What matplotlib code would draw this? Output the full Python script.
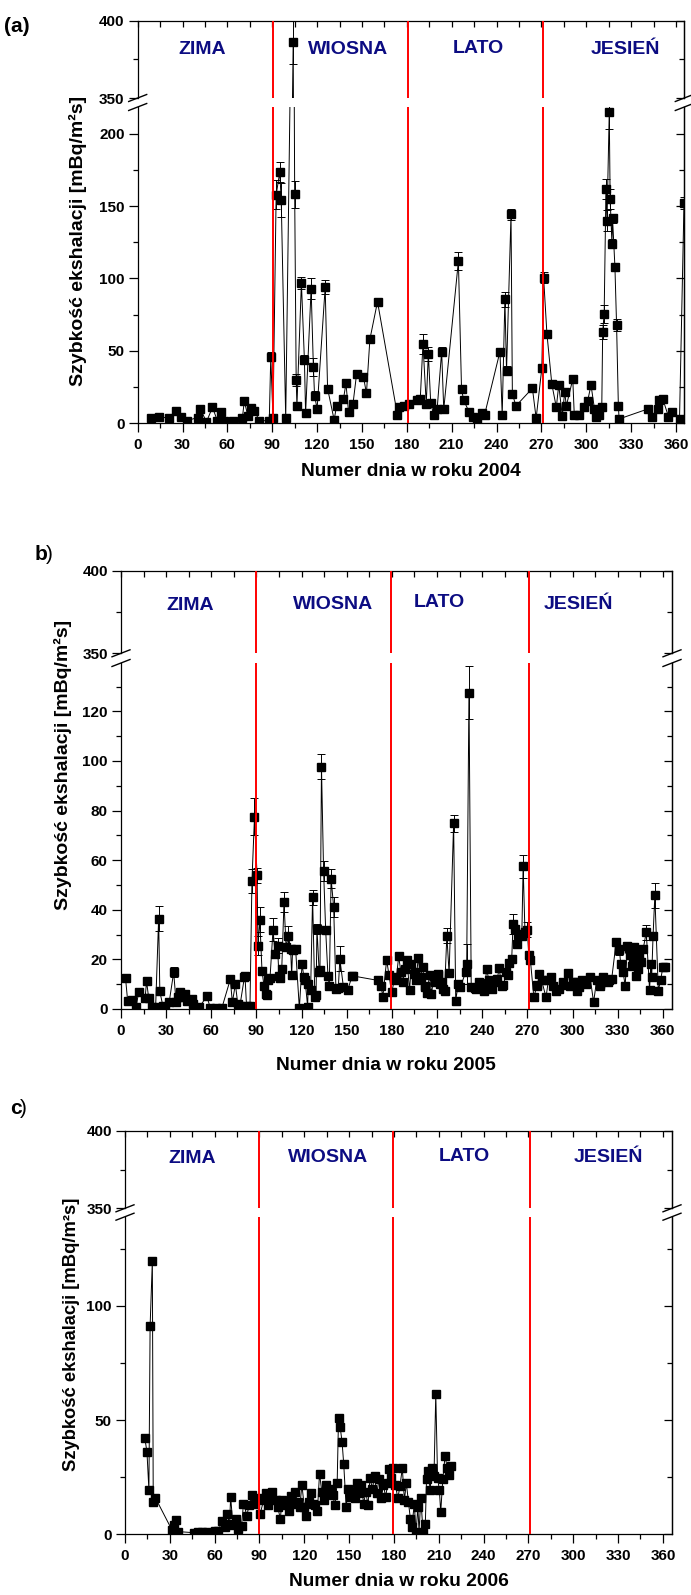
import matplotlib
matplotlib.use('Agg')
import matplotlib.pyplot as plt
from matplotlib.ticker import MultipleLocator, NullFormatter
from matplotlib.lines import Line2D

plt.rcParams['font.family'] = ['Liberation Sans', 'DejaVu Sans']
plt.rcParams['font.weight'] = 'bold'

# ---------------- data ----------------
seasons = ['ZIMA', 'WIOSNA', 'LATO', 'JESIEŃ']
x_label_a = 'Numer dnia w roku 2004'
x_label_b = 'Numer dnia w roku 2005'
x_label_c = 'Numer dnia w roku 2006'
y_label = 'Szybkość ekshalacji [mBq/m²s]'

border_a = [90.5, 181, 271.3]
border_b = [90, 179.5, 271]
border_c = [89.5, 179.7, 271]

a_day = [9, 14.5, 20.7, 25.7, 28.7, 33, 40, 42, 46, 50,
         53.3, 56, 57.7, 63.6, 70, 71.3, 73.7, 76, 78, 81.4,
         88, 89, 90.5, 92.6, 95, 96, 99, 104, 105, 106,
         106.5, 109.5, 111.5, 112.3, 116, 117.5, 118.3, 120, 125.4, 127,
         131.4, 133, 137.6, 139.3, 141, 144, 146.4, 151, 153, 155.3,
         160.4, 173.7, 175, 178, 181.7, 187, 189, 190.8, 193, 194.4,
         196, 198, 200.3, 203.3, 204.7, 214.5, 216.6, 218, 221.6, 224,
         227, 230, 232, 242.3, 243.8, 245.6, 246.7, 249.7, 250.6, 253,
         264, 266.5, 270.3, 271.5, 273.7, 277, 280, 281.6, 284, 285.6,
         286.7, 291, 292, 295.5, 298.8, 301, 303.2, 305.5, 306.6, 308.8,
         310.4, 311, 312, 313.2, 313.9, 315.4, 316, 317.2, 317.6, 319.2,
         320.3, 321.5, 322, 341.5, 343.7, 348, 349, 351.3, 355, 357.3,
         362.4, 365.4]
a_val = [3.5, 4.6, 3.5, 8.7, 4.6, 1.8, 4, 9.7, 1, 11,
         1.8, 7.6, 1.8, 1.8, 3.5, 15.4, 5, 10.4, 8.7, 1.8,
         1.8, 46, 3.5, 157.7, 173.3, 154.2, 3.5, 386, 158, 30,
         12, 97, 44, 7, 93, 39, 19, 10, 94, 24,
         2.3, 12, 16.6, 27.6, 8, 13.4, 34, 32, 20.7, 58,
         84, 5.8, 11, 12, 13, 16, 16.8, 55, 13.4, 48,
         13.8, 5.8, 10, 49.5, 9.7, 112, 23.5, 16, 8, 4.6,
         2.3, 7, 5.8, 49.5, 5.8, 85.6, 36.4, 144.3, 20.3, 12,
         24.2, 3.5, 38, 100.6, 62, 27, 11, 26.5, 5, 21.6,
         12, 30.5, 6, 5.6, 11, 15.6, 26.5, 10, 4.6, 5.7,
         11, 63, 75.6, 162, 140, 215, 155, 124, 141.6, 108,
         68, 12, 3, 10, 4.6, 10, 16, 16.6, 4.6, 8,
         3, 152]
a_err = [1, 1, 1, 1, 1, 1, 1, 1, 1, 2,
         1, 3, 1, 1, 1, 2, 1, 2, 1, 1,
         1, 3, 1, 10, 7, 12, 1, 14, 9, 4,
         1, 4, 3, 1, 7, 6, 3, 1, 5, 1,
         1, 1, 1, 2, 1, 1, 2, 1, 1, 2,
         2, 1, 1, 1, 1, 1, 1, 7, 1, 5,
         1, 1, 1, 3, 1, 6, 2, 1, 1, 1,
         1, 1, 1, 2, 1, 5, 3, 4, 1, 1,
         1, 1, 2, 4, 2, 1, 1, 1, 1, 1,
         1, 1, 1, 1, 1, 1, 1, 1, 1, 1,
         1, 5, 6, 7, 7, 12, 7, 3, 3, 3,
         4, 1, 1, 1, 1, 1, 1, 1, 1, 1,
         1, 4]

b_day = [3, 4.4, 7, 10, 11.7, 16, 17, 18.4, 20.5, 23,
         25, 25.8, 27.8, 29, 32, 35, 36.6, 38, 39.5, 41,
         42.4, 44, 47, 48, 52, 57, 59.4, 63, 67, 72.6,
         74, 76, 77.6, 79, 82, 83.4, 85.7, 87, 88.7, 90.4,
         91, 92.2, 93.7, 95, 96.6, 98, 101, 102.4, 104, 104.9,
         106.8, 108.3, 109.7, 111.2, 112.7, 114, 116, 118.5, 120.3, 121.5,
         124, 124.4, 126, 127.3, 128.8, 130.2, 131.7, 133.2, 134.6, 136,
         137.5, 138.4, 139.6, 141.3, 142.8, 145.4, 147.8, 150.7, 153.6, 171,
         172.7, 174, 176.5, 178, 180, 181.4, 183, 184.5, 186, 187.3,
         190, 191.7, 193, 194.6, 196, 197.5, 199, 200.5, 202, 203.4,
         205, 206.3, 207.8, 209, 210.7, 212, 213.7, 215, 216.5, 218,
         221, 222.4, 224, 225.4, 229, 229.7, 231.2, 232.7, 235.6, 238,
         240, 241.4, 243, 244.4, 246.7, 249, 250, 253, 256, 258,
         259.6, 260.5, 262, 263.4, 265, 266.3, 267.2, 268.4, 270, 270.9,
         272, 274.3, 276.7, 278, 279.5, 282.4, 284, 287, 289, 291.2,
         294, 297, 298.6, 301.5, 303, 306, 308.8, 311.7, 314, 316,
         318, 320.5, 323.4, 326, 329, 330.7, 332, 333.6, 335, 336.5,
         338, 339.5, 341, 342.4, 344, 345.4, 347, 349, 351.2, 352,
         353.5, 354.7, 357, 358.5, 360]
b_val = [12.5, 3.4, 3.6, 0.7, 6.7, 4.3, 11.2, 4.3, 0.7, 0.7,
         36.4, 7.1, 1.3, 0.7, 2.7, 14.8, 2.7, 5, 6.7, 4.7,
         6, 3.4, 4, 2, 0.7, 5.1, 0.4, 0.4, 0.4, 11.9,
         2.7, 10, 2, 1.3, 12.8, 1.3, 1.3, 51.6, 77.5, 54,
         25.6, 36, 15.2, 9.4, 6, 11.5, 32, 22.2, 25.6, 13.5,
         16, 43, 25, 29.6, 24.3, 23.6, 24.3, 0.3, 18.2, 12.8,
         1, 10, 7.7, 45, 5, 32.3, 14.8, 97.7, 55.7, 31.7,
         13.5, 9.4, 52.6, 41, 8, 20.2, 8.8, 7.7, 13.5, 11.5,
         9.4, 5, 19.8, 13.9, 6.7, 11.5, 12.8, 21.2, 14.8, 10.8,
         19.8, 7.7, 18.2, 14.2, 11.5, 20.6, 12.8, 16.8, 9.4, 6.3,
         13.9, 6, 13.2, 11.5, 14.2, 10, 8, 7.4, 29.6, 14.4,
         74.8, 3.4, 10, 8.8, 14.8, 18.2, 127.6, 8.8, 8, 10.8,
         8.8, 7.4, 16.2, 11.5, 8, 10.8, 12, 9.4, 14.8, 18.5,
         20.2, 34.4, 32.3, 26.3, 30.3, 29.6, 57.5, 31, 32, 21.6,
         19.8, 4.7, 9.4, 14.2, 11.5, 4.7, 11.7, 9.4, 7.4, 8,
         10.8, 14.4, 9.4, 10.8, 7.4, 11.5, 10, 12.8, 2.7, 11.5,
         9.4, 12.8, 10.8, 12, 27, 24.3, 18.2, 14.8, 9.4, 25.6,
         21.6, 17.5, 25, 13.5, 21.6, 19, 24.3, 31, 7.7, 18.2,
         29.3, 45.8, 7.4, 11.5, 16.8]
b_err = [1.5, 1.5, 1.5, 1.5, 1.5, 1.5, 1.5, 1.5, 1.5, 1.5,
         5, 1.5, 1.5, 1.5, 1.5, 2, 1.5, 1.5, 1.5, 1.5,
         1.5, 1.5, 1.5, 1.5, 1.5, 1.5, 1.5, 1.5, 1.5, 1.5,
         1.5, 1.5, 1.5, 1.5, 1.5, 1.5, 1.5, 5, 7.5, 3,
         4, 5, 1.5, 1.5, 1.5, 1.5, 4.5, 1.5, 3, 1.5,
         1.5, 4, 1.5, 4, 1.5, 1.5, 1.5, 1.5, 1.5, 1.5,
         1.5, 1.5, 1.5, 3, 1.5, 2, 1.5, 5, 4, 1.5,
         1.5, 1.5, 4, 4, 1.5, 5, 1.5, 1.5, 1.5, 1.5,
         1.5, 1.5, 1.5, 1.5, 1.5, 1.5, 1.5, 1.5, 1.5, 1.5,
         1.5, 1.5, 1.5, 1.5, 1.5, 1.5, 1.5, 1.5, 1.5, 1.5,
         1.5, 1.5, 1.5, 1.5, 1.5, 1.5, 1.5, 1.5, 3, 1.5,
         3.5, 1.5, 1.5, 1.5, 1.5, 8, 10.5, 1.5, 1.5, 1.5,
         1.5, 1.5, 1.5, 1.5, 1.5, 1.5, 1.5, 1.5, 1.5, 1.5,
         1.5, 4, 1.5, 1.5, 1.5, 1.5, 4.5, 1.5, 3, 1.5,
         1.5, 1.5, 1.5, 1.5, 1.5, 1.5, 1.5, 1.5, 1.5, 1.5,
         1.5, 1.5, 1.5, 1.5, 1.5, 1.5, 1.5, 1.5, 1.5, 1.5,
         1.5, 1.5, 1.5, 1.5, 1.5, 1.5, 1.5, 1.5, 1.5, 1.5,
         1.5, 1.5, 1.5, 1.5, 1.5, 1.5, 1.5, 3, 1.5, 1.5,
         1.5, 5, 1.5, 1.5, 1.5]
# further 2005 points read from the dense stretches
b_day_more = [82.4, 97.2, 99, 105.6, 113.4, 122.3, 129.6, 132.2, 144.4, 154.4,
              188.5, 195.3, 201.9, 208.6, 210.8, 213, 235.2, 238.5, 245.2, 251.2,
              254.1, 257.4, 264, 276.5, 286, 293.5, 300.2, 304.6, 318.5, 324.5,
              331.2, 337.8, 340, 343.4, 352.6, 361.5]
b_val_more = [13.3, 5.6, 12.4, 12.4, 13.7, 11.7, 5.6, 15.7, 8.5, 13.3,
              16, 15, 9, 11, 13.7, 11, 8.5, 10.3, 9.7, 16.4,
              9.7, 13.7, 29.8, 9.7, 13, 9.5, 11, 9, 10, 11.7,
              23.8, 24.5, 19.8, 16, 13, 17]
b_err_more = [1.5, 1.5, 1.5, 1.5, 1.5, 1.5, 1.5, 1.5, 1.5, 1.5,
              1.5, 1.5, 1.5, 1.5, 1.5, 1.5, 1.5, 1.5, 1.5, 1.5,
              1.5, 1.5, 2, 1.5, 1.5, 1.5, 1.5, 1.5, 1.5, 1.5,
              2, 2, 1.5, 1.5, 1.5, 1.5]

c_day = [13.3, 14.7, 16, 16.8, 18.3, 18.9, 20.3, 31.5, 33, 33.9,
         35.4, 46, 49, 51.6, 55, 57.5, 60.4, 62.5, 64.8, 67,
         68.4, 70, 70.7, 72.2, 74, 75.7, 78, 79.3, 81.6, 83,
         85, 87, 89, 90.5, 92.8, 94.3, 95.8, 97, 98.7, 100.8,
         102.2, 104, 105, 106.7, 108, 109.6, 111, 112.5, 114, 115.5,
         117, 118.4, 120, 121.4, 123, 124.3, 125.8, 127.3, 128.8, 130.2,
         131.7, 133, 134.6, 136, 137.6, 139, 140.5, 142, 142.9, 144,
         145.3, 146.4, 148, 149.4, 150.9, 152.3, 153.8, 155.3, 156.7, 158.2,
         159.7, 161.2, 162.6, 164, 165.6, 167, 168.5, 170, 171.5, 173,
         174.4, 176, 176.8, 178.3, 179.7, 181, 182.6, 184, 185.6, 187,
         188.3, 189.7, 191, 192, 193.6, 194.8, 196, 196.8, 198, 199.5,
         201, 201.8, 203, 204.2, 205.4, 206.8, 208, 209.2, 210.4, 211.3,
         212.7, 214.2, 215.7, 216.6, 218]
c_val = [42, 36, 19.4, 91, 119.7, 14.2, 16, 1.8, 4.2, 6.3,
         1.2, 0.7, 1, 1.2, 1.2, 0.7, 1.5, 1.5, 5.7, 3,
         9, 4.5, 16.4, 4.2, 6.7, 2.2, 3.7, 13.4, 8.2, 12.7,
         17.2, 13.4, 15.7, 9, 15, 18, 12.7, 16.4, 18.7, 15,
         12, 6.7, 15, 12.7, 14.2, 10.4, 16.7, 13.4, 18.7, 14.2,
         12, 21.6, 12, 8.2, 14.2, 18, 13.4, 12.7, 10.4, 26.6,
         18.7, 15, 21.6, 18, 20, 17.2, 12.7, 22.4, 50.7, 47,
         40.3, 30.6, 12, 20, 16.4, 18.7, 15.7, 22.4, 18, 21.6,
         13.4, 18.7, 12.7, 24.6, 20, 25.4, 18, 24, 15.7, 21.6,
         16.4, 22.4, 28.4, 24.6, 29, 21.6, 15.7, 21, 29, 15,
         22.4, 14.2, 6.7, 3, 13.4, 0.7, 12, 1.2, 15.7, 0.7,
         4.5, 24, 27.6, 19.4, 29, 25.4, 61.5, 24.6, 19.4, 9.7,
         24, 34.3, 29, 26, 30]

# ---------------- layout (pixels of the 691x1595 canvas) ----------------
W, H = 691, 1595
fig = plt.figure(figsize=(W / 100, H / 100), dpi=100)

NAVY = '#0c0c82'


def px_ax(l, t, r, b):
    return fig.add_axes([l / W, 1 - b / H, (r - l) / W, (b - t) / H])


def fig_line(x0, y0, x1, y1):
    fig.add_artist(Line2D([x0 / W, x1 / W], [1 - y0 / H, 1 - y1 / H],
                          transform=fig.transFigure, color='k', lw=1.0,
                          clip_on=False))


def panel(lay, days, vals, errs, borders, label_pos, maj, mnr):
    l, r = lay['l'], lay['r']
    axu = px_ax(l, lay['ut'], r, lay['ub'])
    axl = px_ax(l, lay['lt'], r, lay['lb'])
    axu.set_ylim(350, 400)
    axl.set_ylim(0, lay['ymax'])
    for ax, (M, m) in ((axu, (50, 25)), (axl, (maj, mnr))):
        ax.set_xlim(0, lay['xmax'])
        ax.patch.set_alpha(0)
        for s in ax.spines.values():
            s.set_linewidth(0.9)
        ax.xaxis.set_major_locator(MultipleLocator(30))
        ax.xaxis.set_minor_locator(MultipleLocator(15))
        ax.yaxis.set_major_locator(MultipleLocator(M))
        ax.yaxis.set_minor_locator(MultipleLocator(m))
        ax.tick_params(axis='y', which='both', direction='out', left=True,
                       right=False, labelsize=11, pad=3, width=0.9)
        ax.tick_params(axis='y', which='major', length=6.5)
        ax.tick_params(axis='y', which='minor', length=3.5)
        sec = ax.secondary_yaxis('right')
        sec.yaxis.set_major_locator(MultipleLocator(M))
        sec.yaxis.set_minor_locator(MultipleLocator(m))
        sec.yaxis.set_major_formatter(NullFormatter())
        sec.tick_params(which='both', direction='in', width=0.9)
        sec.tick_params(which='major', length=6)
        sec.tick_params(which='minor', length=3.5)
        sec.spines['right'].set_linewidth(0.9)
        if errs is None:
            ax.plot(days, vals, '-s', color='k', lw=0.7, ms=5.6)
        else:
            ax.errorbar(days, vals, yerr=errs, fmt='-s', color='k', lw=0.7,
                        ms=5.6, elinewidth=0.7, capsize=3, capthick=0.7)
        for d in borders:
            ax.axvline(d, color='#ff0000', lw=1.4, zorder=5)
    axu.spines['bottom'].set_visible(False)
    axu.tick_params(axis='x', which='both', bottom=False, labelbottom=False,
                    top=True, direction='in', width=0.9)
    axu.tick_params(axis='x', which='major', length=4.5)
    axu.tick_params(axis='x', which='minor', length=4.5)
    axl.spines['top'].set_visible(False)
    axl.tick_params(axis='x', which='both', top=False, direction='out',
                    labelsize=11, pad=4, width=0.9)
    axl.tick_params(axis='x', which='major', length=6.5)
    axl.tick_params(axis='x', which='minor', length=3.5)
    for name, (xd, yd) in zip(seasons, label_pos):
        axu.text(xd, yd, name, color=NAVY, fontsize=14, fontweight='bold',
                 ha='center', va='center')
    for xs in (l, r):
        for yb in (lay['ub'], lay['lt']):
            fig_line(xs - 9, yb + 3.5, xs + 9, yb - 3.5)
    return axu, axl


lay_a = dict(l=137.7, r=684.3, ut=20.7, ub=98, lt=107, lb=423.3,
             xmax=365.6, ymax=218.4)
lay_b = dict(l=121, r=672, ut=570.7, ub=653.3, lt=663, lb=1009,
             xmax=366.1, ymax=139.5)
lay_c = dict(l=125, r=672, ut=1130.7, ub=1208.3, lt=1216.7, lb=1534.3,
             xmax=366.1, ymax=139)

# 2005 series in day order
b_all = sorted(zip(b_day + b_day_more, b_val + b_val_more, b_err + b_err_more))
b_d = [p[0] for p in b_all]
b_v = [p[1] for p in b_all]
b_e = [p[2] for p in b_all]

panel(lay_a, a_day, a_val, a_err, border_a,
      [(43, 381.5), (140.6, 381.5), (227.6, 382), (326.3, 381.5)], 50, 25)
panel(lay_b, b_d, b_v, b_e, border_b,
      [(46, 378.7), (141.2, 379.8), (211.7, 380.7), (304, 379.8)], 20, 10)
panel(lay_c, c_day, c_val, None, border_c,
      [(45.2, 382.2), (136, 383), (227.4, 383.6), (323.3, 383)], 50, 25)


def ftext(x, y, s, **kw):
    fig.text(x / W, 1 - y / H, s, **kw)


ftext(411, 472, x_label_a, fontsize=13.8, ha='center', va='center')
ftext(386, 1066, x_label_b, fontsize=13.8, ha='center', va='center')
ftext(399, 1582, x_label_c, fontsize=13.8, ha='center', va='center')
ftext(78, 241, y_label, fontsize=14, rotation=90, ha='center', va='center')
ftext(63, 765, y_label, fontsize=14, rotation=90, ha='center', va='center')
ftext(72, 1334, y_label, fontsize=13.2, rotation=90, ha='center', va='center')

ftext(4, 27, '(a)', fontsize=15, ha='left', va='center')
ftext(35, 555, 'b', fontsize=15, ha='left', va='center')
ftext(46, 555, ')', fontsize=15, ha='left', va='center', fontweight='normal')
ftext(10, 1108, 'c', fontsize=15, ha='left', va='center')
ftext(20, 1108, ')', fontsize=15, ha='left', va='center', fontweight='normal')

fig.savefig('out.png', dpi=100)
